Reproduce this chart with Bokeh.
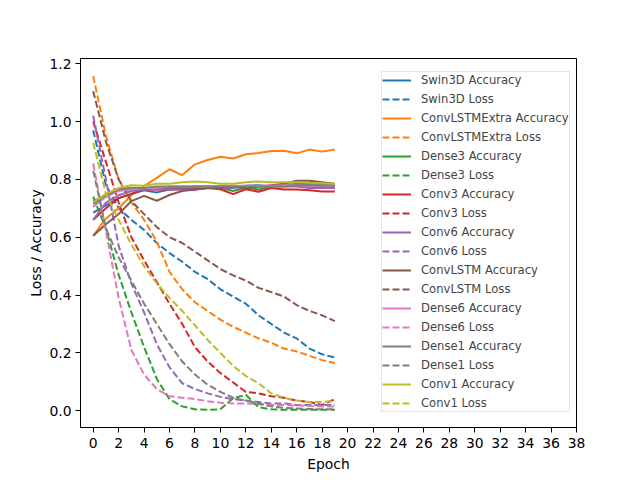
from bokeh.plotting import figure
from bokeh.models import Range1d, FixedTicker, PrintfTickFormatter, Legend, LegendItem
from bokeh.embed import file_html
from bokeh.resources import INLINE

epochs = [0, 1, 2, 3, 4, 5, 6, 7, 8, 9, 10, 11, 12, 13, 14, 15, 16, 17, 18, 19]
x_ticks = [0, 2, 4, 6, 8, 10, 12, 14, 16, 18, 20, 22, 24, 26, 28, 30, 32, 34, 36, 38]
y_ticks = [0.0, 0.2, 0.4, 0.6, 0.8, 1.0, 1.2]

model_names = ["Swin3D", "ConvLSTMExtra", "Dense3", "Conv3", "Conv6",
               "ConvLSTM", "Dense6", "Dense1", "Conv1"]

swin3d_acc = [0.685, 0.71, 0.735, 0.75, 0.762, 0.755, 0.765, 0.77, 0.77, 0.77,
              0.775, 0.775, 0.778, 0.78, 0.775, 0.78, 0.778, 0.78, 0.775, 0.775]
swin3d_loss = [0.97, 0.78, 0.70, 0.66, 0.625, 0.58, 0.545, 0.515, 0.48, 0.455,
               0.42, 0.395, 0.37, 0.33, 0.30, 0.27, 0.25, 0.215, 0.195, 0.184]

convlstmextra_acc = [0.605, 0.665, 0.70, 0.745, 0.777, 0.805, 0.835, 0.815, 0.852, 0.867,
                     0.878, 0.872, 0.887, 0.891, 0.898, 0.899, 0.89, 0.903, 0.896, 0.903]
convlstmextra_loss = [1.158, 0.95, 0.80, 0.72, 0.66, 0.585, 0.48, 0.42, 0.375, 0.345,
                      0.315, 0.29, 0.27, 0.25, 0.235, 0.215, 0.205, 0.19, 0.175, 0.165]

dense3_acc = [0.715, 0.745, 0.765, 0.77, 0.77, 0.77, 0.77, 0.772, 0.775, 0.775,
              0.772, 0.76, 0.772, 0.765, 0.775, 0.78, 0.785, 0.785, 0.785, 0.78]
dense3_loss = [0.74, 0.63, 0.47, 0.34, 0.22, 0.11, 0.04, 0.015, 0.005, 0.003,
               0.005, 0.043, 0.055, 0.012, 0.005, 0.003, 0.003, 0.003, 0.003, 0.003]

conv3_acc = [0.66, 0.70, 0.735, 0.75, 0.765, 0.765, 0.765, 0.765, 0.765, 0.77,
             0.766, 0.749, 0.766, 0.757, 0.77, 0.765, 0.765, 0.762, 0.758, 0.758]
conv3_loss = [1.0, 0.86, 0.72, 0.60, 0.52, 0.445, 0.37, 0.30, 0.22, 0.17,
              0.13, 0.098, 0.065, 0.06, 0.05, 0.045, 0.035, 0.03, 0.02, 0.04]

conv6_acc = [0.66, 0.72, 0.745, 0.76, 0.765, 0.765, 0.765, 0.765, 0.765, 0.77,
             0.77, 0.77, 0.775, 0.775, 0.775, 0.775, 0.775, 0.77, 0.77, 0.77]
conv6_loss = [1.02, 0.80, 0.57, 0.44, 0.34, 0.23, 0.15, 0.095, 0.075, 0.06,
              0.048, 0.04, 0.035, 0.03, 0.025, 0.025, 0.02, 0.02, 0.02, 0.02]

convlstm_acc = [0.605, 0.645, 0.68, 0.725, 0.743, 0.726, 0.746, 0.76, 0.765, 0.77,
                0.77, 0.775, 0.77, 0.775, 0.78, 0.785, 0.795, 0.795, 0.79, 0.785]
convlstm_loss = [1.105, 0.93, 0.80, 0.725, 0.68, 0.635, 0.60, 0.58, 0.55, 0.52,
                 0.49, 0.468, 0.45, 0.425, 0.41, 0.395, 0.365, 0.345, 0.33, 0.31]

dense6_acc = [0.705, 0.74, 0.76, 0.765, 0.77, 0.77, 0.775, 0.775, 0.775, 0.775,
              0.778, 0.778, 0.778, 0.778, 0.778, 0.78, 0.78, 0.778, 0.778, 0.778]
dense6_loss = [0.855, 0.62, 0.39, 0.21, 0.125, 0.075, 0.05, 0.045, 0.04, 0.033,
               0.028, 0.025, 0.025, 0.022, 0.02, 0.02, 0.018, 0.016, 0.015, 0.015]

dense1_acc = [0.725, 0.745, 0.765, 0.77, 0.77, 0.775, 0.775, 0.775, 0.775, 0.775,
              0.775, 0.775, 0.775, 0.775, 0.775, 0.775, 0.78, 0.78, 0.78, 0.78]
dense1_loss = [0.83, 0.63, 0.53, 0.45, 0.37, 0.30, 0.23, 0.17, 0.125, 0.09,
               0.065, 0.045, 0.035, 0.025, 0.015, 0.01, 0.008, 0.006, 0.005, 0.005]

conv1_acc = [0.72, 0.75, 0.77, 0.78, 0.778, 0.785, 0.785, 0.79, 0.793, 0.79,
             0.785, 0.785, 0.79, 0.793, 0.79, 0.79, 0.79, 0.788, 0.787, 0.785]
conv1_loss = [0.927, 0.75, 0.66, 0.575, 0.50, 0.44, 0.39, 0.345, 0.295, 0.245,
              0.20, 0.155, 0.12, 0.095, 0.06, 0.045, 0.035, 0.03, 0.03, 0.035]

colors = ["#1f77b4", "#ff7f0e", "#2ca02c", "#d62728", "#9467bd",
          "#8c564b", "#e377c2", "#7f7f7f", "#bcbd22"]

acc_series = [swin3d_acc, convlstmextra_acc, dense3_acc, conv3_acc, conv6_acc,
              convlstm_acc, dense6_acc, dense1_acc, conv1_acc]
loss_series = [swin3d_loss, convlstmextra_loss, dense3_loss, conv3_loss, conv6_loss,
               convlstm_loss, dense6_loss, dense1_loss, conv1_loss]

FONT = "DejaVu Sans"

p = figure(width=640, height=480, output_backend="svg", toolbar_location=None,
           x_range=Range1d(-1, 38), y_range=Range1d(-0.058, 1.218),
           min_border_left=80, min_border_right=64, min_border_top=58, min_border_bottom=53)

p.xgrid.visible = False
p.ygrid.visible = False
p.outline_line_color = "black"
p.outline_line_alpha = 1.0
p.outline_line_width = 1

for ax in (p.xaxis[0], p.yaxis[0]):
    ax.major_tick_out = 5
    ax.major_tick_in = 0
    ax.minor_tick_line_color = None
    ax.major_label_text_font = FONT
    ax.major_label_text_font_size = "13.9px"
    ax.major_label_text_color = "black"
    ax.axis_label_text_font = FONT
    ax.axis_label_text_font_size = "13.9px"
    ax.axis_label_text_font_style = "normal"
    ax.axis_label_text_color = "black"
    ax.axis_line_color = "black"
    ax.major_tick_line_color = "black"

p.xaxis.major_label_standoff = 5
p.yaxis.major_label_standoff = 4
p.xaxis.ticker = FixedTicker(ticks=x_ticks)
p.yaxis.ticker = FixedTicker(ticks=y_ticks)
p.yaxis.formatter = PrintfTickFormatter(format="%.1f")
p.xaxis.axis_label = "Epoch"
p.yaxis.axis_label = "Loss / Accuracy"
p.xaxis.axis_label_standoff = 5
p.yaxis.axis_label_standoff = 2

items = []
for name, color, acc, loss in zip(model_names, colors, acc_series, loss_series):
    r1 = p.line(epochs, acc, line_color=color, line_width=2)
    r2 = p.line(epochs, loss, line_color=color, line_width=2, line_dash="7 3")
    items.append(LegendItem(label=name + " Accuracy", renderers=[r1]))
    items.append(LegendItem(label=name + " Loss", renderers=[r2]))

legend = Legend(items=items, location=(301, 15), margin=0, padding=0,
                spacing=3, glyph_height=16, label_height=16, glyph_width=29,
                label_standoff=10, label_text_font=FONT, label_text_font_size="11.6px",
                border_line_color="#cccccc", border_line_width=1,
                background_fill_color="white", background_fill_alpha=0.8)
p.add_layout(legend)

open("out.html", "w").write(file_html(p, INLINE))
